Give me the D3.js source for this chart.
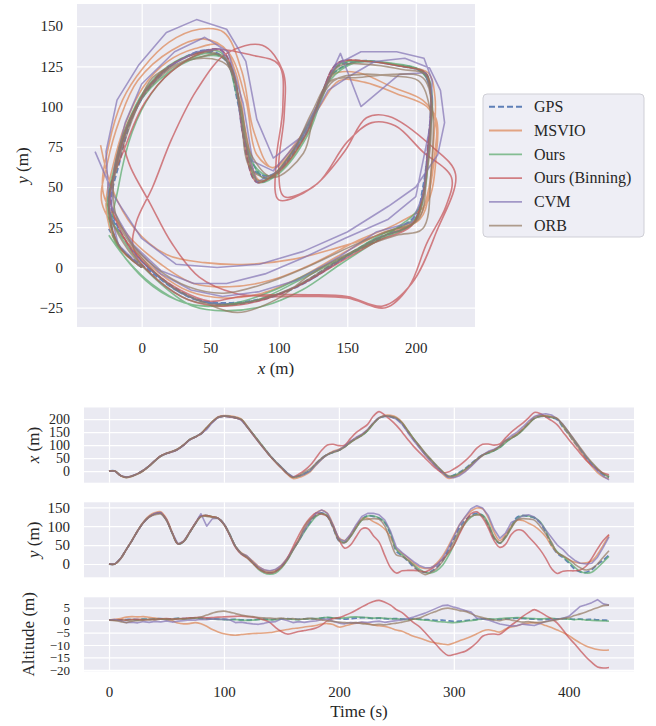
<!DOCTYPE html>
<html><head><meta charset="utf-8">
<script src="https://cdn.jsdelivr.net/npm/d3@7"></script>
<style>
body{margin:0;background:#fff}
text{font-family:"Liberation Serif","DejaVu Serif",serif;fill:#262626}
</style>
</head><body>
<svg id="c" width="656" height="726"></svg>
<script>
// ---------------- DATA ----------------
const time=[0,5,10,15,20,25,30,35,40,45,50,55,60,65,70,75,80,85,90,95,100,105,110,115,120,125,130,135,140,145,150,155,160,165,170,175,180,185,190,195,200,205,210,215,220,225,230,235,240,245,250,255,260,265,270,275,280,285,290,295,300,305,310,315,320,325,330,335,340,345,350,355,360,365,370,375,380,385,390,395,400,405,410,415,420,425,430,435];
const seriesNames=["GPS","MSVIO","Ours","Ours (Binning)","CVM","ORB"];
const seriesColors=["#4C72B0","#DD8452","#55A868","#C44E52","#8172B3","#937860"];

const gpsX=[0,0,-17,-24,-19,-10,3,20,40,58,
68,74,84,100,120,131,143,166,189,207,
211,209,205,198,172,144,116,88,60,36,
14,-8,-24,-19,-10,3,28,49,64,72,
80,94,112,127,138,157,184,205,211,209,
201,182,152,122,94,66,41,18,-4,-22,
-16,-5,10,28,47,62,70,79,92,112,
128,141,161,184,204,211,210,205,198,169,
141,110,80,50,27,4,-13,-24];
const gpsY=[0,0,14,38,62,88,110,125,133,135,
117,82,53,60,83,107,127,128,125,121,
106,78,46,28,18,4,-11,-20,-23,-19,
-7,12,38,62,88,110,129,135,126,96,
62,57,74,98,119,128,126,121,109,78,
34,22,8,-8,-18,-22,-20,-9,8,36,
66,97,116,129,134,128,103,68,55,74,
100,124,128,126,122,109,84,49,28,17,
3,-13,-21,-22,-15,-1,10,24];
const gpsAlt=[0,0,0.1,0.2,0.3,0.2,0.4,0.3,0.5,0.6,
0.4,0.5,0.7,0.6,0.8,0.9,0.7,0.6,0.5,0.4,
0.3,0.2,0.3,0.1,0,0.1,0.3,0.4,0.2,0.3,
0.5,0.6,0.4,0.3,0.5,0.6,0.5,0.8,1.0,0.8,
0.6,0.4,0.6,0.8,1.0,0.9,0.7,0.8,0.6,0.5,
0.6,0.4,0.3,0.5,0.4,0.2,0.1,-0.1,0,-0.3,
-0.5,-0.4,-0.2,0,0.3,0.5,0.4,0.2,0.3,0.5,
0.6,0.8,0.7,0.5,0.4,0.2,0.3,0.5,0.4,0.6,
0.5,0.3,0.4,0.2,0.3,0.1,0,-0.1];

const msvioX=[0,0,-18,-26,-21,-12,1,19,39,58,
69,76,86,102,121,132,145,168,191,209,
214,213,209,201,174,145,116,88,60,35,
12,-11,-29,-25,-16,-3,22,45,63,76,
84,97,114,128,140,158,183,205,215,215,
208,188,156,124,94,64,38,14,-10,-28,
-24,-14,1,20,42,60,73,82,95,113,
130,144,163,186,208,215,214,210,203,172,
142,110,78,46,18,-6,-22,-30];
const msvioY=[0,0,14,38,63,89,112,128,136,138,
120,84,54,61,84,108,127,128,125,121,
106,78,47,30,21,8,-6,-16,-19,-15,
-3,16,40,65,92,116,135,142,134,104,
70,62,78,100,120,121,112,104,92,70,
40,28,16,2,-8,-12,-10,2,20,46,
76,104,124,140,148,146,122,84,62,78,
100,116,115,108,100,88,72,48,30,20,
12,5,2,3,8,25,50,76];
const msvioAlt=[0,0.3,0.6,1.2,1.4,1.3,1.4,1.1,0.8,0.5,
0.2,-0.3,-1.2,-1.5,-1.4,-1.0,-1.5,-2.5,-3.8,-4.8,
-5.5,-5.9,-6.1,-5.8,-5.6,-5.4,-5.3,-5.2,-5.0,-4.6,
-4.2,-3.8,-3.4,-3.2,-2.8,-2.5,-2.2,-1.6,-1.4,-1.8,
-2.8,-2.4,-1.8,-1.2,-1.0,-1.4,-2.0,-2.3,-2.6,-3.2,
-4.0,-4.5,-5.5,-6.5,-7.2,-8.0,-8.8,-9.2,-9.6,-9.9,
-9.2,-8.3,-7.5,-6.6,-5.5,-4.4,-3.9,-4.3,-4.8,-3.6,
-2.8,-2.3,-1.6,-1.2,-1.0,-1.4,-2.2,-3.0,-4.0,-5.0,
-6.2,-7.8,-9.2,-10.4,-11.2,-11.8,-12.1,-12.0];

const oursX=[0,0,-17,-25,-20,-11,2,19,39,57,
68,75,85,101,121,132,144,167,190,207,
212,210,206,199,173,145,117,89,61,37,
15,-7,-24,-20,-11,2,26,47,63,72,
80,93,110,125,137,155,182,204,211,210,
203,185,156,126,97,69,44,20,-2,-21,
-17,-7,7,25,44,60,69,78,90,109,
126,139,158,181,202,211,211,207,201,174,
146,115,85,55,31,7,-11,-24];
const oursY=[0,0,14,38,62,88,110,125,133,134,
116,81,53,59,82,106,126,128,125,121,
106,79,47,28,17,2,-14,-24,-27,-24,
-11,9,36,60,85,107,125,133,128,100,
66,57,72,95,116,127,127,122,110,81,
38,24,10,-2,-14,-22,-24,-18,-4,20,
50,84,108,124,131,130,108,72,55,70,
96,120,128,127,123,112,88,54,32,20,
6,-8,-20,-24,-22,-10,5,20];
const oursAlt=[0,0,0.1,0,0.2,0.1,0.3,0.2,0.4,0.5,
0.3,0.4,0.6,0.5,0.7,0.8,0.6,0.5,0.4,0.3,
0.2,0.1,0.2,0,-0.1,0,0.2,0.3,0.1,0.2,
0.4,0.5,0.3,0.2,0.4,0.6,0.6,0.9,1.1,0.9,
0.8,0.9,1.2,1.3,1.1,1.0,0.8,0.9,0.7,0.6,
0.5,0.3,0.2,0.4,0.2,0,-0.2,-0.5,-0.7,-0.9,
-1.0,-0.8,-0.4,-0.2,0.1,0.4,0.5,0.4,0.6,0.8,
0.9,1.0,0.9,0.7,0.6,0.5,0.6,0.7,0.5,0.6,
0.4,0.2,0.3,0,-0.1,-0.2,-0.3,-0.4];

const binX=[0,0,-17,-24,-19,-10,3,20,40,58,
68,74,84,100,120,131,143,166,189,207,
211,209,205,197,171,142,113,85,58,34,
12,-10,-23,-12,2,22,50,80,100,103,
98,100,125,148,164,180,212,229,215,197,
176,150,122,95,72,50,28,8,-6,-4,
8,22,40,62,88,103,104,100,104,128,
150,168,185,205,226,222,208,195,178,150,
122,95,68,42,22,6,-8,-14];
const binY=[0,0,14,38,62,88,110,125,133,135,
117,82,53,60,83,107,127,128,125,121,
105,76,44,26,16,2,-12,-21,-24,-20,
-8,14,45,75,102,122,135,132,126,100,
65,42,50,72,93,94,75,58,22,-10,
-24,-18,-17,-17,-18,-21,-14,-2,12,28,
50,80,110,133,138,122,95,62,44,52,
78,90,88,72,56,38,15,-12,-25,-19,
-18,-18,-16,-6,15,40,62,78];
const binAlt=[0,0,0.1,0,0.2,0.3,0.1,0.2,0.3,0.5,
0.6,0.4,0.5,0.7,0.9,1.0,1.1,0.9,1.0,1.2,
1.3,1.4,1.5,1.6,1.4,1.2,0.8,0,-1.0,-3.0,
-4.6,-5.6,-5.2,-4.6,-4.2,-3.8,-3.2,-2.0,-0.2,0.6,
1.0,1.8,2.8,4.0,5.3,6.5,7.5,7.9,7.2,6.0,
4.2,3.0,1.0,-1.0,-2.6,-5.0,-7.5,-10.0,-12.5,-14.2,
-13.8,-13.2,-12.5,-11.0,-9.0,-6.5,-5.7,-5.6,-5.7,-4.0,
-2.0,-0.4,1.5,3.0,4.2,3.2,1.8,0.5,-1.2,-4.0,
-7.0,-9.5,-12.2,-14.8,-17.0,-18.8,-19.2,-19.0];

const cvmX=[0,0,-17,-24,-19,-10,3,20,40,58,
68,74,84,100,120,131,145,160,188,207,
212,210,206,197,171,143,113,86,59,36,
14,-7,-22,-20,-12,0,24,46,63,74,
81,96,114,130,142,160,186,206,212,210,
200,180,148,118,90,62,38,14,-6,-24,
-26,-18,-2,18,40,62,76,84,96,118,
136,150,170,192,210,218,221,216,200,180,
150,118,86,55,25,0,-20,-34];
const cvmY=[0,0,14,38,62,88,110,125,134,136,
117,82,53,60,83,107,133,100,120,121,
106,78,46,28,22,6,-8,-15,-18,-14,
-4,14,38,62,90,114,134,143,134,102,
66,60,78,104,126,134,134,130,116,86,
44,30,18,6,-4,-10,-10,-2,14,40,
72,104,126,146,154,148,128,92,68,82,
110,118,128,130,124,110,90,70,50,38,
22,10,2,0,2,18,44,72];
const cvmAlt=[0,0.2,-0.4,-1.0,-0.8,-1.1,-0.6,-0.9,-0.5,-0.7,
-0.3,-0.8,-0.4,-0.2,0.1,0.0,0.3,0.2,0.5,0.3,
0.4,0.1,-1.0,-0.8,-1.2,-1.5,-1.7,-1.3,-0.8,-0.6,
0.4,-0.2,-1.0,-0.6,-0.9,-0.5,-0.3,0.2,0.4,-0.5,
-1.2,-1.5,-1.0,-1.2,-0.8,-1.0,-0.6,-0.4,-0.9,-0.5,
-0.2,0.1,0.6,1.2,2.0,2.8,3.8,4.8,5.8,6.0,
5.2,4.6,3.8,3.2,0.8,0.5,0.0,-0.8,-1.6,-2.0,
-2.4,-2.2,-1.6,-1.9,-2.2,-1.4,-0.6,0.0,0.4,0.7,
1.5,3.5,5.5,6.2,7.0,8.2,6.5,6.0];

const orbX=[0,0,-17,-24,-19,-10,3,20,40,58,
68,75,85,101,120,131,144,167,190,207,
211,210,206,199,172,143,114,86,58,34,
12,-10,-24,-18,-4,8,30,50,64,72,
79,92,110,124,138,158,184,205,212,211,
205,186,154,124,98,70,46,22,0,-18,
-20,-10,6,26,46,62,72,80,96,118,
126,140,160,182,202,210,211,208,202,178,
150,120,90,60,34,10,-10,-20];
const orbY=[0,0,14,38,62,88,110,124,130,132,
115,82,54,60,83,106,125,126,123,120,
104,77,46,28,18,4,-11,-20,-23,-20,
-8,11,36,62,98,118,128,134,126,96,
62,56,72,96,116,118,120,118,100,58,
24,20,10,-4,-20,-28,-22,-12,6,30,
60,90,112,126,130,126,102,70,56,71,
95,116,120,119,116,100,80,58,30,22,
12,0,-10,-16,-12,0,18,35];
const orbAlt=[0,-0.2,-0.6,-1.0,-0.4,-0.2,0.0,0.3,0.1,0.4,
0.5,0.2,0.6,0.4,0.7,0.9,1.2,2.0,2.8,3.4,
3.6,3.2,2.6,2.0,1.6,1.4,1.0,0.9,0.8,0.6,
0.8,0.5,0.6,0.3,0.5,0.7,0.4,0.1,-0.3,-0.5,
-0.8,-1.0,-1.2,-1.0,-1.4,-1.6,-1.9,-1.7,-1.9,-1.5,
-1.2,-0.8,-0.4,0.4,0.8,1.8,2.8,3.6,4.5,4.8,
4.4,3.8,3.5,2.6,1.6,1.0,0.4,0.0,-0.2,0.3,
0.0,-0.4,-0.8,-0.6,-1.0,-0.9,-0.6,-0.2,0.2,0.6,
1.0,1.8,2.5,3.3,4.2,5.0,5.8,6.0];

const trajXTicks=[0,50,100,150,200];
const trajYTicks=[-25,0,25,50,75,100,125,150];
const panelXTicks=[0,50,100,150,200];
const panelYTicks=[0,50,100,150];
const altTicks=[-20,-15,-10,-5,0,5];
const timeTicks=[0,100,200,300,400];

// ---------------- BUILD ----------------
const xsList=[gpsX,msvioX,oursX,binX,cvmX,orbX];
const ysList=[gpsY,msvioY,oursY,binY,cvmY,orbY];
const altList=[gpsAlt,msvioAlt,oursAlt,binAlt,cvmAlt,orbAlt];
const series=seriesNames.map((n,i)=>({
  name:n,color:seriesColors[i],dashed:i===0,jagged:i===4,
  pts:time.map((t,k)=>({t,x:xsList[i][k],y:ysList[i][k],a:altList[i][k]}))
}));

const svg=d3.select("#c");
const BG="#EAEAF2";
const LAB=17;

function styleAxis(size){
  return g=>{
    g.select(".domain").remove();
    g.selectAll(".tick line").attr("stroke","#fff").attr("stroke-width",1.2);
    g.selectAll(".tick text").attr("font-size",size).attr("fill","#262626")
      .attr("font-family",'"Liberation Serif",serif');
  };
}
function drawLines(g,sx,sy,fx,fy,clipId){
  const gl=g.append("g").attr("clip-path",`url(#${clipId})`);
  series.forEach(s=>{
    const line=d3.line().x(d=>sx(fx(d))).y(d=>sy(fy(d)))
      .curve(s.jagged?d3.curveLinear:d3.curveCatmullRom.alpha(0.5));
    gl.append("path").datum(s.pts).attr("d",line).attr("fill","none")
      .attr("stroke",s.color).attr("stroke-width",s.dashed?1.8:1.6)
      .attr("stroke-opacity",s.dashed?0.85:0.7)
      .attr("stroke-dasharray",s.dashed?"5.5,2.6":null)
      .attr("stroke-linejoin","round");
  });
}
function panelFrame(id,L,R,T,B){
  svg.append("clipPath").attr("id",id).append("rect")
    .attr("x",L).attr("y",T).attr("width",R-L).attr("height",B-T);
  svg.append("rect").attr("x",L).attr("y",T).attr("width",R-L).attr("height",B-T).attr("fill",BG);
}

// ---- trajectory plot ----
{
  const L=77,R=475,T=4,B=327;
  panelFrame("clipTraj",L,R,T,B);
  const sx=d3.scaleLinear().domain([-47.2,243.2]).range([L,R]);
  const sy=d3.scaleLinear().domain([-37,163.7]).range([B,T]);
  svg.append("g").attr("transform",`translate(0,${B})`)
    .call(d3.axisBottom(sx).tickValues(trajXTicks).tickSize(-(B-T)).tickPadding(15.5)).call(styleAxis(15));
  svg.append("g").attr("transform",`translate(${L},0)`)
    .call(d3.axisLeft(sy).tickValues(trajYTicks).tickSize(-(R-L)).tickPadding(14)).call(styleAxis(15));
  drawLines(svg,sx,sy,d=>d.x,d=>d.y,"clipTraj");
  const xl=svg.append("text").attr("x",(L+R)/2).attr("y",374).attr("text-anchor","middle").attr("font-size",LAB);
  xl.append("tspan").attr("font-style","italic").text("x");
  xl.append("tspan").text(" (m)");
  const yl=svg.append("text").attr("transform",`translate(28,${(T+B)/2}) rotate(-90)`).attr("text-anchor","middle").attr("font-size",LAB);
  yl.append("tspan").attr("font-style","italic").text("y");
  yl.append("tspan").text(" (m)");

  // legend
  const lg=svg.append("g");
  lg.append("rect").attr("x",483).attr("y",94).attr("width",161).attr("height",143)
    .attr("rx",4).attr("fill","#EEEEF5").attr("stroke","#cfcfd6").attr("stroke-width",1);
  series.forEach((s,i)=>{
    const cy=106.7+i*23.8;
    lg.append("line").attr("x1",489).attr("x2",522).attr("y1",cy).attr("y2",cy)
      .attr("stroke",s.color).attr("stroke-width",s.dashed?2:1.8)
      .attr("stroke-opacity",s.dashed?0.9:0.7)
      .attr("stroke-dasharray",s.dashed?"6,3":null);
    lg.append("text").attr("x",534).attr("y",cy+5.3).attr("font-size",16).text(s.name);
  });
}

// ---- time-series panels ----
const PL=84, PR=634;
const st=d3.scaleLinear().domain([-21.75,456.75]).range([PL,PR]);
function tsPanel(id,T,B,domain,ticks,acc,labelParts,labelX,showTime,tickSize){
  panelFrame(id,PL,PR,T,B);
  const sy=d3.scaleLinear().domain(domain).range([B,T]);
  const ax=svg.append("g").attr("transform",`translate(0,${B})`)
    .call(d3.axisBottom(st).tickValues(timeTicks).tickSize(-(B-T)).tickPadding(15.5)).call(styleAxis(15));
  if(!showTime) ax.selectAll(".tick text").remove();
  svg.append("g").attr("transform",`translate(${PL},0)`)
    .call(d3.axisLeft(sy).tickValues(ticks).tickSize(-(PR-PL)).tickPadding(14)).call(styleAxis(tickSize));
  drawLines(svg,st,sy,d=>d.t,acc,id);
  const lab=svg.append("text").attr("transform",`translate(${labelX},${(T+B)/2}) rotate(-90)`)
    .attr("text-anchor","middle").attr("dy","0.35em").attr("font-size",LAB);
  labelParts.forEach(p=>lab.append("tspan").attr("font-style",p[1]?"italic":null).text(p[0]));
}
tsPanel("clipP1",407.5,482.7,[-45,245],panelXTicks,d=>d.x,[["x",true],[" (m)",false]],33,false,14);
tsPanel("clipP2",502.3,577.3,[-35.2,163.2],panelYTicks,d=>d.y,[["y",true],[" (m)",false]],33,false,15);
tsPanel("clipP3",597.3,671.3,[-20.55,9.15],altTicks,d=>d.a,[["Altitude (m)",false]],28,true,13);
svg.append("text").attr("x",(PL+PR)/2).attr("y",717).attr("text-anchor","middle").attr("font-size",LAB).text("Time (s)");
</script>
</body></html>
